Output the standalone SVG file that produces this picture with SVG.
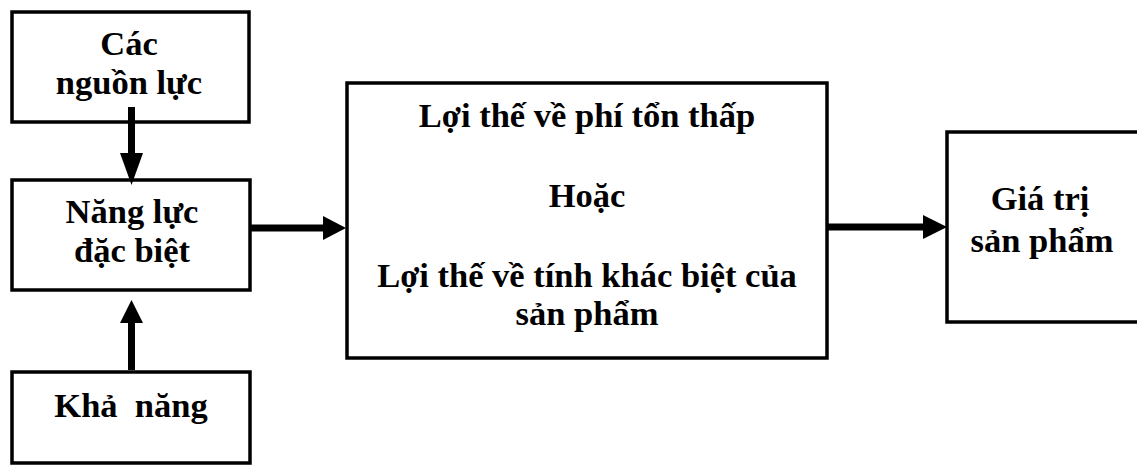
<svg xmlns="http://www.w3.org/2000/svg" width="1137" height="466" viewBox="0 0 1137 466">
<style>
.box{fill:#fff;stroke:#000;stroke-width:3.5}
.t{font-family:"Liberation Serif","Times New Roman",serif;font-weight:bold;font-size:34.5px;fill:#000;text-anchor:middle;white-space:pre}
.c{stroke:#000;stroke-width:7;fill:none}
.h{fill:#000}
</style>
<rect width="1137" height="466" fill="#fff"/>
<g id="node-resources">
<rect class="box" x="12" y="12" width="237" height="110"/>
<text class="t" x="129" y="55">Các</text>
<text class="t" x="129" y="94">nguồn lực</text>
</g>
<g id="node-competence">
<rect class="box" x="12" y="180" width="238" height="110"/>
<text class="t" x="132" y="223">Năng lực</text>
<text class="t" x="132" y="262">đặc biệt</text>
</g>
<g id="node-capability">
<rect class="box" x="12" y="372" width="238" height="91"/>
<text class="t" x="131" y="417" xml:space="preserve">Khả  năng</text>
</g>
<g id="node-advantage">
<rect class="box" x="347" y="83" width="480" height="275"/>
<text class="t" x="587" y="127">Lợi thế về phí tổn thấp</text>
<text class="t" x="587" y="207">Hoặc</text>
<text class="t" x="587" y="287">Lợi thế về tính khác biệt của</text>
<text class="t" x="587" y="325">sản phẩm</text>
</g>
<g id="node-value">
<rect class="box" x="947" y="132" width="220" height="190"/>
<text class="t" x="1040" y="210">Giá trị</text>
<text class="t" x="1042" y="252">sản phẩm</text>
</g>
<g id="connectors">
<line class="c" x1="131.5" y1="107" x2="131.5" y2="155"/>
<polygon class="h" points="120,153 143,153 131.5,185"/>
<line class="c" x1="131.5" y1="370" x2="131.5" y2="320"/>
<polygon class="h" points="120,323 143,323 131.5,300"/>
<line class="c" x1="250" y1="228" x2="325" y2="228"/>
<polygon class="h" points="323,216 323,240 346,228"/>
<line class="c" x1="827" y1="227" x2="925" y2="227"/>
<polygon class="h" points="923,215 923,239 947,227"/>
</g>
</svg>
